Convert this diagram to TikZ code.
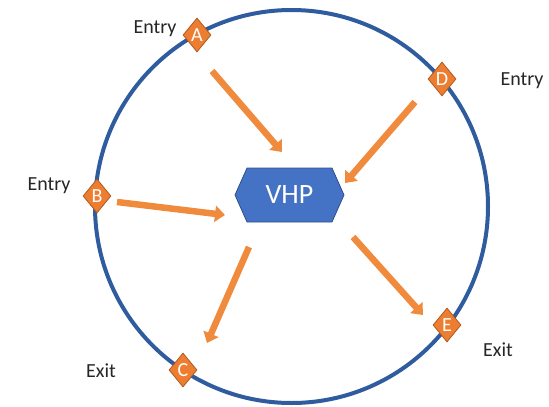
\documentclass[tikz,border=0pt]{standalone}
\usepackage{fontspec}
\setmainfont{Carlito}
\usetikzlibrary{arrows.meta, positioning, shapes.geometric, shapes.symbols}

\definecolor{ringblue}{HTML}{2F5C9E}
\definecolor{hexblue}{HTML}{4472C4}
\definecolor{hexedge}{HTML}{2F528F}
\definecolor{gateorange}{HTML}{ED7D31}
\definecolor{gateedge}{HTML}{AE5A21}
\definecolor{floworange}{HTML}{F08A3C}

\begin{document}
\begin{tikzpicture}[x=1pt,y=-1pt,
            gate/.style={diamond,draw=gateedge,line width=0.8pt,fill=gateorange,
              minimum width=28pt,minimum height=34pt,inner sep=0pt,text=white,
              font=\fontsize{20}{20}\selectfont},
            hub/.style={signal,signal to=west and east,signal pointer angle=132,
              draw=hexedge,line width=0.8pt,fill=hexblue,minimum width=109pt,minimum height=54pt,
              inner sep=0pt,text=white,font=\fontsize{28}{28}\selectfont},
            lbl/.style={font=\fontsize{20}{20}\selectfont,text=black!85},
            flow/.style={floworange,line width=6.5pt,-{Triangle[length=10pt,width=16pt]}}]
            \useasboundingbox (0,0) rectangle (549,407);

            % Outer ring
            \node[circle,draw=ringblue,line width=4pt,minimum size=393pt,inner sep=0pt] (ring) at (291.5,206.5) {};

            % Central hub
            \node[hub] (vhp) at (289.5,195) {VHP};

            % Gates on the ring
            \node[gate] (A) at (197,35) {A};
            \node[gate] (D) at (442,79) {D};
            \node[gate] (B) at (97,196) {B};
            \node[gate] (C) at (183,370) {C};
            \node[gate] (E) at (447,325) {E};

            % Gate labels
            \node[lbl] (labA) at (155,29) {Entry};
            \node[lbl] (labD) at (522,81) {Entry};
            \node[lbl] (labB) at (49,186) {Entry};
            \node[lbl] (labC) at (101,371) {Exit};
            \node[lbl] (labE) at (498,350) {Exit};

            % Arrow ends
            \coordinate (a0) at (212,71);  \coordinate (a1) at (282,152);
            \coordinate (d0) at (415,102); \coordinate (d1) at (345,183);
            \coordinate (b0) at (117,202); \coordinate (b1) at (225,215);
            \coordinate (c0) at (249,247); \coordinate (c1) at (207,343);
            \coordinate (e0) at (353,237); \coordinate (e1) at (423,315);

            % Flows
            \draw[flow] (a0) -- (a1);
            \draw[flow] (d0) -- (d1);
            \draw[flow] (b0) -- (b1);
            \draw[flow] (c0) -- (c1);
            \draw[flow] (e0) -- (e1);
        \end{tikzpicture}
\end{document}
